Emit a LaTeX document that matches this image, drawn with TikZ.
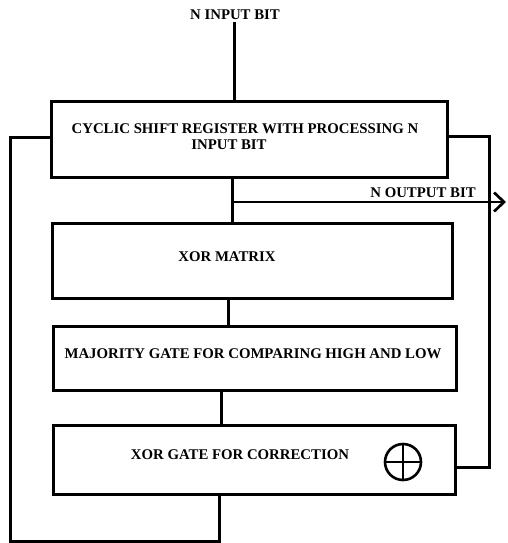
\documentclass[tikz,border=0pt]{standalone}
\usepackage{fontspec}
\setmainfont{Liberation Serif}
\usetikzlibrary{arrows.meta}
\begin{document}
\begin{tikzpicture}[x=1pt,y=-1pt,
  blk/.style={draw,line width=3pt,minimum width=#1,inner sep=0pt,outer sep=0pt},
  lbl/.style={font=\fontsize{14.8}{16}\selectfont\bfseries,inner sep=0pt,align=center},
  wire/.style={line width=3pt},
  outarrow/.style={line width=2.7pt,-{Straight Barb[length=10pt,width=19pt,line width=2.7pt]}}]
\useasboundingbox (0,0) rectangle (507,543);
% blocks
\node[blk=396pt,minimum height=76pt] (b1) at (249,139) {};
\node[blk=400pt,minimum height=75pt] (b2) at (252,260.5) {};
\node[blk=403pt,minimum height=64pt] (b3) at (254.5,358) {};
\node[blk=402pt,minimum height=69pt] (b4) at (254,459.5) {};
% texts
\node[lbl] (in) at (235,15) {N INPUT BIT};
\node[lbl] (t1) at (245,137) {CYCLIC SHIFT REGISTER WITH PROCESSING N\\\hspace*{-32pt}INPUT BIT};
\node[lbl] (t2) at (227,257) {XOR MATRIX};
\node[lbl] (t3) at (253,354) {MAJORITY GATE FOR COMPARING HIGH AND LOW};
\node[lbl] (t4) at (240,455) {XOR GATE FOR CORRECTION};
\node[lbl] (out) at (423,193) {N OUTPUT BIT};
% xor symbol
\node[draw,circle,line width=2.6pt,minimum size=36pt,inner sep=0pt] (xo) at (403,462) {};
\draw[line width=2.6pt] (xo.north) -- (xo.south) (xo.west) -- (xo.east);
% coordinates
\coordinate (ci) at (234,22);
\coordinate (o) at (232,202);
\coordinate (oe) at (506,202);
\coordinate (c23) at (228,300);
\coordinate (c34) at (221,400);
\coordinate (L1) at (10,137);
\coordinate (L2) at (10,541);
\coordinate (L3) at (219,541);
\coordinate (R1) at (489,136);
\coordinate (R2) at (489,467);
% connectors
\draw[wire] (ci) -- (ci |- b1.north);
\draw[wire] (o |- b1.south) -- (o |- b2.north);
\draw[outarrow] (o) -- (oe);
\draw[wire] (c23 |- b2.south) -- (c23 |- b3.north);
\draw[wire] (c34 |- b3.south) -- (c34 |- b4.north);
\draw[wire] (b1.west |- L1) -- (L1) -- (L2) -- (L3) -- (L3 |- b4.south);
\draw[wire] (b1.east |- R1) -- (R1) -- (R2) -- (b4.east |- R2);
\end{tikzpicture}
\end{document}
